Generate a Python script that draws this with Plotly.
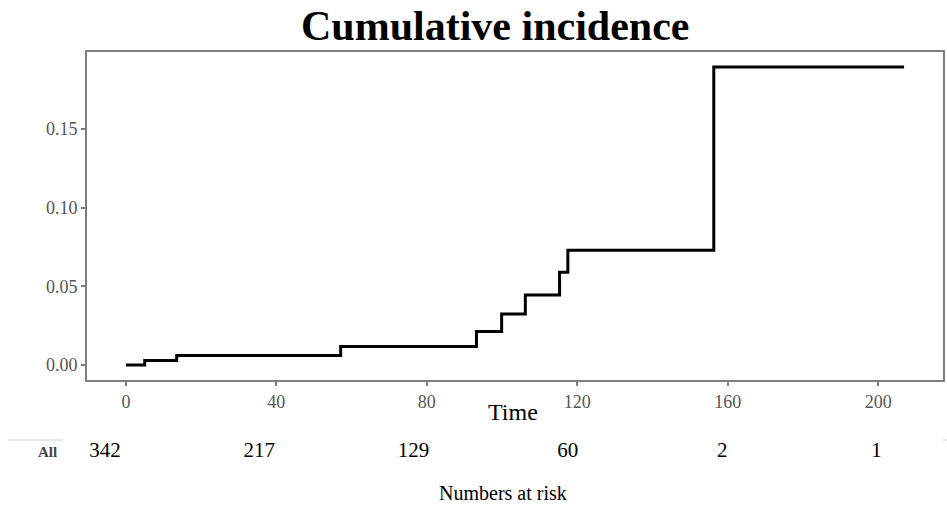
import plotly.graph_objects as go

# Data
times = [0, 5.0, 13.5, 57.1, 93.2, 99.9, 106.2, 115.3, 117.5, 156.3, 206.9]
cuminc = [0, 0.0029, 0.0061, 0.0118, 0.0213, 0.0325, 0.0445, 0.0589, 0.0730, 0.1894, 0.1894]
risk_times = [0, 40, 80, 120, 160, 200]
risk_counts = [342, 217, 129, 60, 2, 1]
strata_label = "All"
y_ticks = [0.0, 0.05, 0.10, 0.15]
y_ticklabels = ["0.00", "0.05", "0.10", "0.15"]
x_ticks = [0, 40, 80, 120, 160, 200]

W, H = 947, 511
def px_x(p): return p / W
def px_y(p): return 1 - p / H

xmax = max(times)
ymax = max(cuminc)
xr = [-0.05 * xmax, xmax * 1.05]
yr = [-0.05 * ymax, ymax * 1.05]

SERIF = "Liberation Serif, Times New Roman, serif"
AXC = "#7f7f7f"

fig = go.Figure()
fig.add_trace(go.Scatter(
    x=times, y=cuminc, mode="lines", line=dict(color="black", width=3, shape="hv"),
    xaxis="x", yaxis="y", showlegend=False, hoverinfo="skip"))

fig.add_trace(go.Scatter(
    x=risk_times, y=[0] * len(risk_times), mode="text",
    text=[str(v) for v in risk_counts],
    textfont=dict(family=SERIF, size=21, color="black"),
    textposition="middle center",
    xaxis="x2", yaxis="y2", showlegend=False, hoverinfo="skip"))

fig.update_layout(
    width=W, height=H,
    margin=dict(l=0, r=0, t=0, b=0),
    paper_bgcolor="white", plot_bgcolor="white",
    xaxis=dict(domain=[px_x(87), px_x(943)], range=xr, anchor="y",
               tickvals=x_ticks, ticks="outside", ticklen=4, tickwidth=1.5, tickcolor=AXC,
               showline=True, linecolor=AXC, linewidth=2, mirror=True,
               showgrid=False, zeroline=False,
               tickfont=dict(family=SERIF, size=18, color="#555555")),
    yaxis=dict(domain=[px_y(380), px_y(52)], range=yr, anchor="x",
               tickvals=y_ticks, ticktext=y_ticklabels, ticks="outside", ticklen=4,
               tickwidth=1.5, tickcolor=AXC,
               showline=True, linecolor=AXC, linewidth=2, mirror=True,
               showgrid=False, zeroline=False,
               tickfont=dict(family=SERIF, size=18, color="#555555")),
    xaxis2=dict(domain=[px_x(65), px_x(943)], range=xr, anchor="y2", visible=False),
    yaxis2=dict(domain=[px_y(472), px_y(432)], range=[-1, 1], anchor="x2", visible=False),
    showlegend=False,
)

fig.add_annotation(text="<b>Cumulative incidence</b>", x=px_x(495), y=px_y(26), xref="paper", yref="paper",
                   showarrow=False, font=dict(family=SERIF, size=42, color="black"),
                   xanchor="center", yanchor="middle")
fig.add_annotation(text="Time", x=px_x(513), y=px_y(412), xref="paper", yref="paper",
                   showarrow=False, font=dict(family=SERIF, size=24, color="black"),
                   xanchor="center", yanchor="middle")
fig.add_annotation(text="Numbers at risk", x=px_x(503), y=px_y(493), xref="paper", yref="paper",
                   showarrow=False, font=dict(family=SERIF, size=20, color="black"),
                   xanchor="center", yanchor="middle")
fig.add_annotation(text="<b>" + strata_label + "</b>", x=px_x(59), y=px_y(452), xref="paper", yref="paper",
                   showarrow=False, font=dict(family=SERIF, size=15, color="#444444"),
                   xanchor="right", yanchor="middle")

fig.add_shape(type="line", xref="paper", yref="paper",
              x0=px_x(8), x1=px_x(63), y0=px_y(440), y1=px_y(440),
              line=dict(color="#e6e6e6", width=2))
fig.add_shape(type="line", xref="paper", yref="paper",
              x0=px_x(943), x1=px_x(947), y0=px_y(440), y1=px_y(440),
              line=dict(color="#e6e6e6", width=2))

fig.write_html("out.html")
